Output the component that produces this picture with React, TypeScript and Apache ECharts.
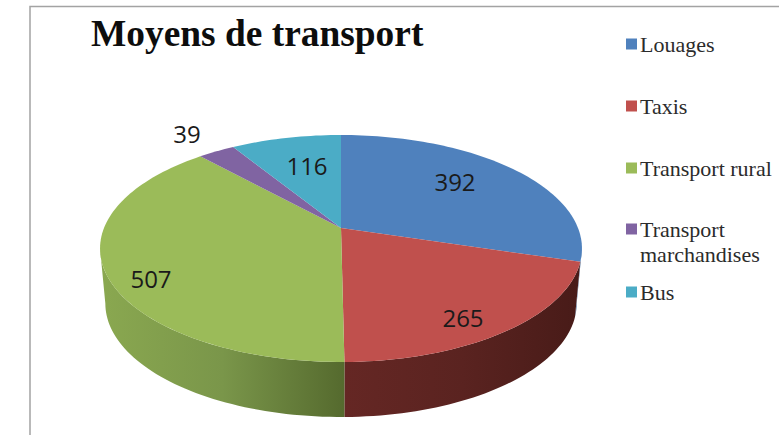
import React, { useEffect, useRef } from "react";
import * as echarts from "echarts";

const categories = ["Louages", "Taxis", "Transport rural", "Transport marchandises", "Bus"];
const values = [392, 265, 507, 39, 116];
const colors = ["#4f81bd", "#c0504d", "#9bbb59", "#8064a2", "#4bacc6"];

// Perspective projection of the pie disc onto the page
const CX = 341, CY = 228, A = 237, B = 109.8, K = 0.1806, DEPTH = 55, BOTTOM_SCALE = 0.978;
const labelAnchors = [[455, 181], [463, 317], [151, 278], [187, 133], [307, 165]];
const legendTops = [33, 95, 157, 218, 281];
const wallStops: Record<number, [string, string, string]> = {
  0: ["#3a5f8c", "#3a5f8c", "#3a5f8c"],
  1: ["#652724", "#5a2320", "#481b18"],
  2: ["#8aa850", "#7a964a", "#556a2e"],
  3: ["#5d4877", "#5d4877", "#5d4877"],
  4: ["#367f92", "#367f92", "#367f92"],
};

const total = values.reduce((s, v) => s + v, 0);

function project(deg: number, r = 1): [number, number] {
  const t = (deg * Math.PI) / 180;
  const u = r * Math.sin(t);
  const v = -r * Math.cos(t);
  const d = 1 - K * v;
  return [CX + (A * u) / d, CY + (B * v) / d];
}

function lower(p: [number, number]): [number, number] {
  return [CX + (p[0] - CX) * BOTTOM_SCALE, p[1] + DEPTH];
}

function arc(from: number, to: number): [number, number][] {
  const pts: [number, number][] = [];
  const n = Math.max(2, Math.ceil((to - from) / 1.5));
  for (let i = 0; i <= n; i++) pts.push(project(from + ((to - from) * i) / n));
  return pts;
}

const VISIBLE_FROM = 100.4, VISIBLE_TO = 259.6;

function makeSeries(index: number) {
  const before = values.slice(0, index).reduce((s, v) => s + v, 0);
  return {
    type: "custom",
    name: categories[index],
    coordinateSystem: "none",
    silent: true,
    itemStyle: { color: colors[index] },
    data: [[values[index]]],
    z: 2,
    renderItem: (_p: unknown, api: { value: (i: number) => number }) => {
      const value = api.value(0);
      const start = (before / total) * 360;
      const end = ((before + value) / total) * 360;
      const children: unknown[] = [];
      const wFrom = Math.max(start, VISIBLE_FROM);
      const wTo = Math.min(end, VISIBLE_TO);
      if (wTo > wFrom) {
        const rim = arc(wFrom, wTo);
        const xs = rim.map((p) => p[0]);
        const x0 = Math.min(...xs), x1 = Math.max(...xs);
        const stops = wallStops[index];
        children.push({
          type: "polygon",
          shape: { points: [...rim, ...rim.slice().reverse().map(lower)] },
          style: {
            fill: new echarts.graphic.LinearGradient(
              x0, 0, x1, 0,
              [
                { offset: 0, color: stops[0] },
                { offset: 0.5, color: stops[1] },
                { offset: 1, color: stops[2] },
              ],
              true,
            ),
          },
        });
      }
      children.push({
        type: "polygon",
        shape: { points: [[CX, CY], ...arc(start, end)] },
        style: { fill: colors[index] },
      });
      children.push({
        type: "text",
        z2: 10,
        style: {
          text: String(value),
          x: labelAnchors[index][0],
          y: labelAnchors[index][1],
          align: "center",
          verticalAlign: "middle",
          fontFamily: "Open Sans",
          fontSize: 24,
          fill: "#1a1a1a",
        },
      });
      return { type: "group", children };
    },
  };
}

export default function App() {
  const ref = useRef<HTMLDivElement>(null);
  useEffect(() => {
    if (!ref.current) return;
    const chart = echarts.init(ref.current, undefined, { renderer: "svg" });
    chart.setOption({
      animation: false,
      backgroundColor: "#ffffff",
      color: colors,
      title: {
        text: "Moyens de transport",
        left: 91,
        top: 15,
        padding: 0,
        textStyle: { fontFamily: "Liberation Serif", fontWeight: "bold", fontSize: 37.4, color: "#0d0d0d" },
      },
      legend: categories.map((name, i) => ({
        data: [name],
        orient: "vertical",
        left: 626,
        top: legendTops[i],
        padding: 0,
        itemWidth: 11,
        itemHeight: 11,
        icon: "rect",
        selectedMode: false,
        formatter: (n: string) => (n === "Transport marchandises" ? "Transport" : n),
        textStyle: {
          fontFamily: "Liberation Serif",
          fontSize: 22,
          color: "#2b2b2b",
          padding: [0, 0, 0, -2],
        },
      })),
      graphic: [
        {
          type: "rect",
          silent: true,
          z: 0,
          shape: { x: 30, y: 6.5, width: 780, height: 460 },
          style: { fill: "none", stroke: "#a3a3a3", lineWidth: 1.5 },
        },
        {
          type: "text",
          silent: true,
          style: {
            text: "marchandises",
            x: 640,
            y: 243,
            fontFamily: "Liberation Serif",
            fontSize: 22,
            fill: "#2b2b2b",
          },
        },
      ],
      series: categories.map((_, i) => makeSeries(i)),
    });
    return () => chart.dispose();
  }, []);
  return <div ref={ref} style={{ position: "fixed", left: 0, top: 0, width: 779, height: 435 }} />;
}
